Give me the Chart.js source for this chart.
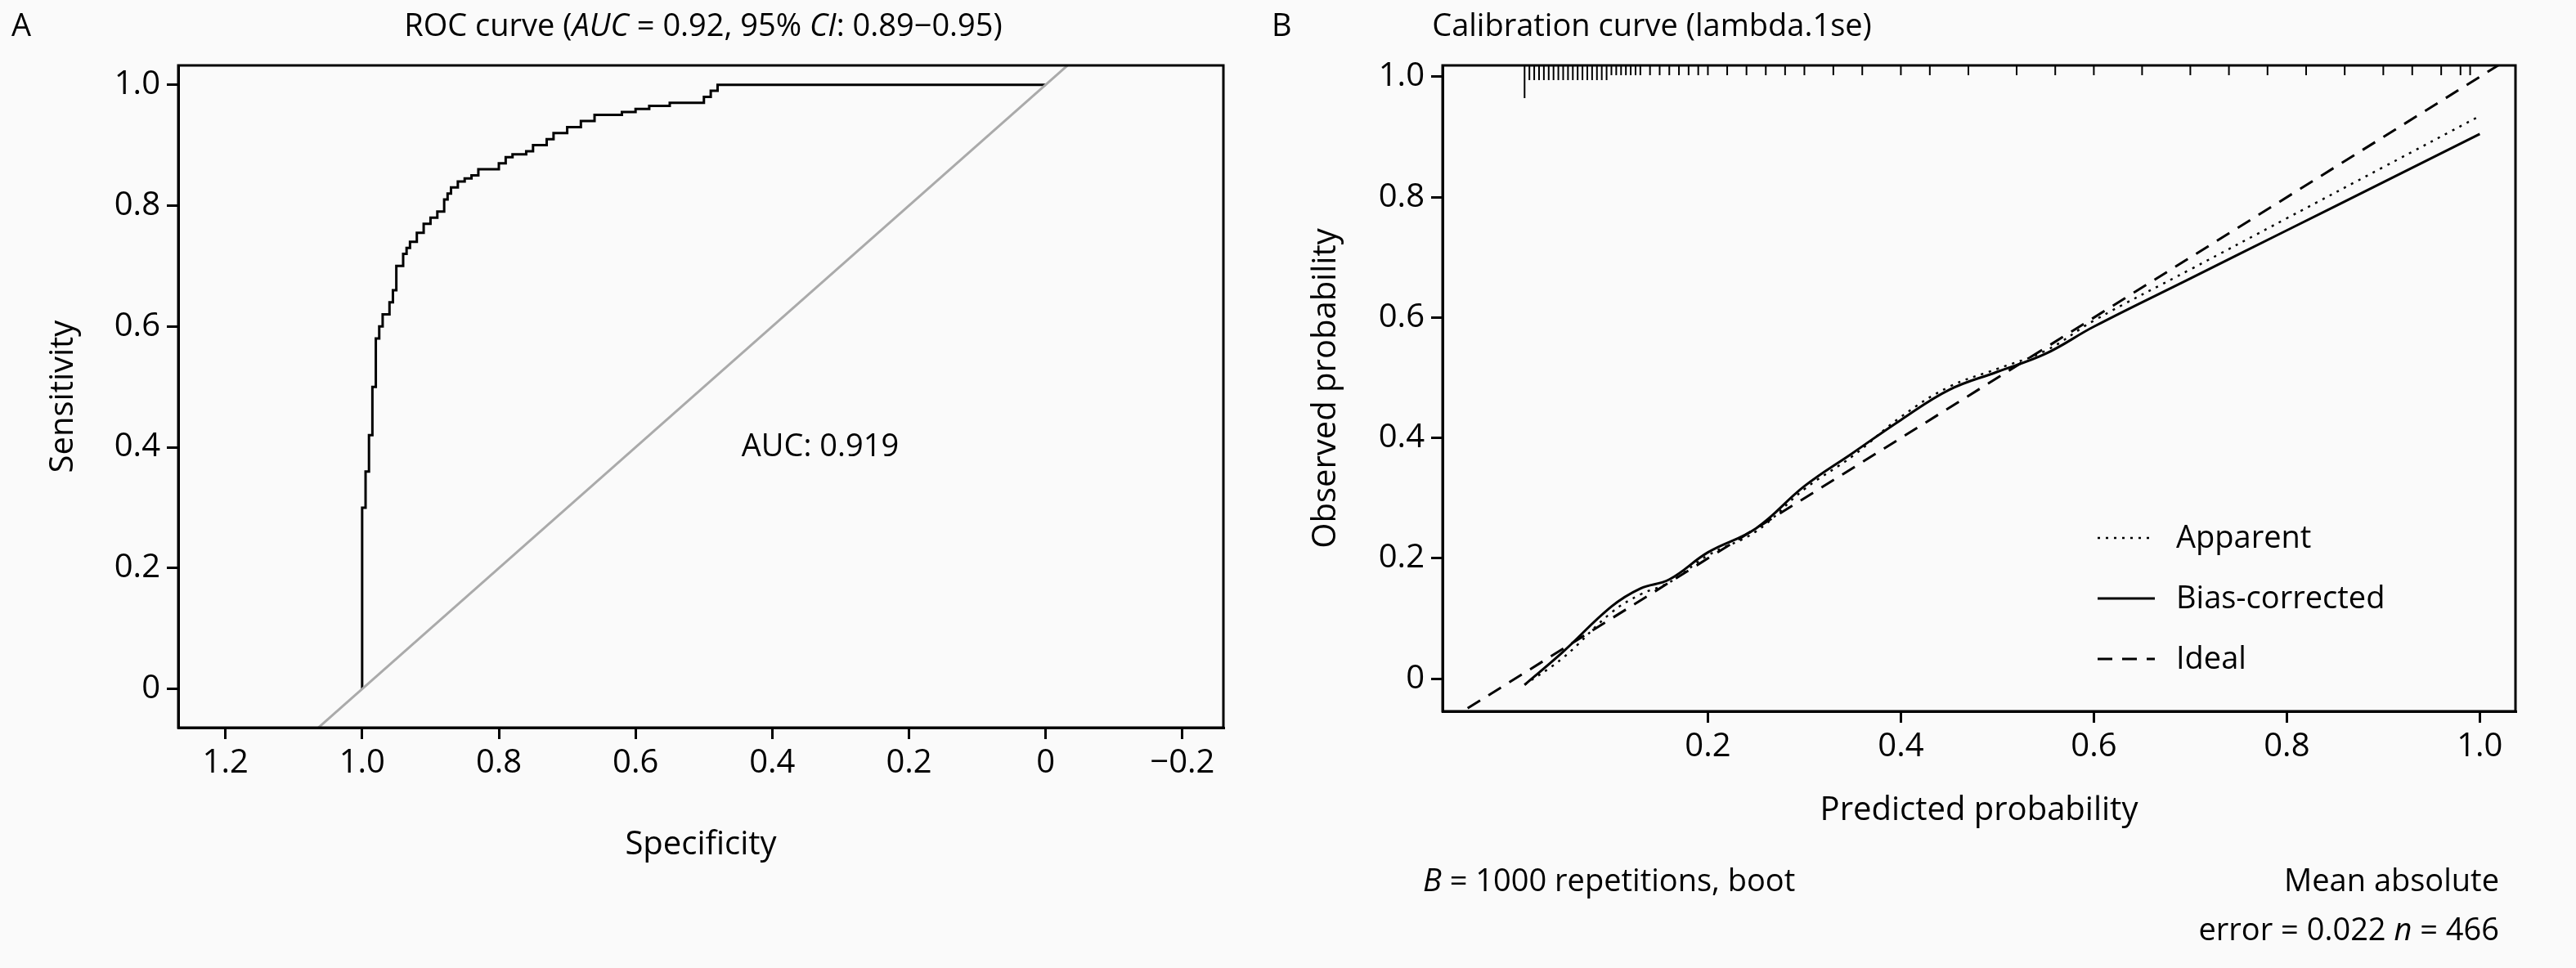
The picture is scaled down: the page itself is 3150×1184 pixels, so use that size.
<!DOCTYPE html>
<html><head><meta charset="utf-8">
<script src="https://cdn.jsdelivr.net/npm/chart.js@4"></script>
<style>body{margin:0;background:#fafafa;width:3150px;height:1184px;overflow:hidden}
#a{position:absolute;left:0;top:0}#b{position:absolute;left:1540px;top:0}</style></head>
<body><canvas id="a" width="1540" height="1184"></canvas><canvas id="b" width="1610" height="1184"></canvas>
<script>
const rocSpec=[1.0,1.0,0.995,0.99,0.985,0.98,0.975,0.97,0.96,0.955,0.95,0.94,0.935,0.93,0.92,0.91,0.90,0.89,0.88,0.875,0.87,0.86,0.85,0.84,0.83,0.80,0.79,0.78,0.76,0.75,0.73,0.72,0.70,0.68,0.66,0.62,0.60,0.58,0.55,0.50,0.49,0.48,0.46,0.0];
const rocSens=[0.0,0.23,0.30,0.36,0.42,0.50,0.58,0.60,0.62,0.64,0.66,0.70,0.72,0.73,0.74,0.755,0.77,0.78,0.79,0.81,0.82,0.83,0.84,0.845,0.85,0.86,0.87,0.88,0.885,0.89,0.90,0.91,0.92,0.93,0.94,0.95,0.955,0.96,0.965,0.97,0.98,0.99,1.0,1.0];
const diagX=[1.2,-0.2], diagY=[-0.2,1.2];
const calX=[0.01,0.05,0.1,0.13,0.16,0.2,0.25,0.3,0.35,0.4,0.45,0.5,0.55,0.6,0.7,0.8,0.9,1.0];
const apparent=[-0.01,0.035,0.11,0.14,0.16,0.205,0.245,0.315,0.37,0.435,0.485,0.515,0.545,0.595,0.68,0.765,0.85,0.935];
const biasCorr=[-0.01,0.045,0.12,0.15,0.165,0.21,0.25,0.32,0.375,0.43,0.48,0.51,0.54,0.585,0.665,0.745,0.825,0.905];
const idealX=[-0.2,1.2], idealY=[-0.2,1.2];
const rug=[0.01,0.015,0.02,0.025,0.03,0.035,0.04,0.045,0.05,0.055,0.06,0.065,0.07,0.075,0.08,0.085,0.09,0.095,0.1,0.105,0.11,0.115,0.12,0.125,0.13,0.14,0.15,0.16,0.17,0.18,0.19,0.2,0.22,0.24,0.26,0.28,0.3,0.33,0.36,0.4,0.43,0.47,0.52,0.56,0.6,0.65,0.7,0.74,0.78,0.82,0.86,0.9,0.93,0.96,0.98,0.99];
const rocTicksX=[1.2,1.0,0.8,0.6,0.4,0.2,0,-0.2];
const yTicks=[0,0.2,0.4,0.6,0.8,1.0];
const FONT='"Open Sans", sans-serif';
const fmt=v=>v===0?'0':(v<0?'\u2212':'')+Math.abs(v).toFixed(1);
function box(){return{id:'box',afterDatasetsDraw(c){const a=c.chartArea,x=c.ctx;x.save();x.strokeStyle='#000';x.lineWidth=3;x.strokeRect(a.left,a.top,a.right-a.left,a.bottom-a.top);x.restore();}}}
function txt(ctx,parts,x,y,align){ctx.textBaseline='alphabetic';let w=0;parts.forEach(p=>{ctx.font=(p[1]?'italic ':'')+'38px '+FONT;w+=ctx.measureText(p[0]).width;});let s=align==='center'?x-w/2:align==='right'?x-w:x;parts.forEach(p=>{ctx.font=(p[1]?'italic ':'')+'38px '+FONT;ctx.fillText(p[0],s,y);s+=ctx.measureText(p[0]).width;});}
function axes(minX,maxX,rev,ticksX,xw,yh,xTitle,yTitle){return{
 x:{type:'linear',min:minX,max:maxX,reverse:rev,afterBuildTicks:s=>{s.ticks=ticksX.map(v=>({value:v}))},afterFit:s=>{s.height=yh},
  ticks:{color:'#000',font:{family:FONT,size:40},callback:v=>fmt(v),maxRotation:0,padding:6},grid:{drawOnChartArea:false,color:'#000',lineWidth:3,tickLength:14},border:{color:'#000',width:3},
  title:{display:true,text:xTitle,color:'#000',font:{family:FONT,size:40},padding:{top:4}}},
 y:{type:'linear',afterFit:s=>{s.width=xw},afterBuildTicks:s=>{s.ticks=yTicks.map(v=>({value:v}))},
  ticks:{color:'#000',font:{family:FONT,size:40},callback:v=>fmt(v),padding:8},grid:{drawOnChartArea:false,color:'#000',lineWidth:3,tickLength:14},border:{color:'#000',width:3},
  title:{display:true,text:yTitle,color:'#000',font:{family:FONT,size:40},padding:{bottom:10}}}}}
const sA=axes(1.269,-0.26,true,rocTicksX,168,80+92,'Specificity','Sensitivity');sA.y.min=-0.064;sA.y.max=1.032;
new Chart(document.getElementById('a'),{type:'scatter',data:{datasets:[
 {data:diagX.map((v,i)=>({x:v,y:diagY[i]})),showLine:true,borderColor:'#aaaaaa',borderWidth:3,pointRadius:0},
 {data:rocSpec.map((v,i)=>({x:v,y:rocSens[i]})),showLine:true,stepped:'after',borderColor:'#000',borderWidth:3,pointRadius:0}]},
 options:{responsive:false,animation:false,layout:{padding:{top:80,right:44,left:50,bottom:1184-890-172}},plugins:{legend:{display:false},tooltip:{enabled:false}},scales:sA},
 plugins:[box(),{id:'t',afterDraw(c){const x=c.ctx;x.save();x.fillStyle='#000';
  txt(x,[['ROC curve ('],['AUC',1],[' = 0.92, 95% '],['CI',1],[': 0.89\u22120.95)']],860,44,'center');
  txt(x,[['A']],14,44,'left');
  txt(x,[['AUC: 0.919']],c.scales.x.getPixelForValue(0.445),c.scales.y.getPixelForValue(0.385),'left');x.restore();}}]});
const sB=axes(-0.075,1.037,false,[0.2,0.4,0.6,0.8,1.0],170,150,'Predicted probability','Observed probability');sB.y.min=-0.054;sB.y.max=1.019;
new Chart(document.getElementById('b'),{type:'scatter',data:{datasets:[
 {data:idealX.map((v,i)=>({x:v,y:idealY[i]})),showLine:true,borderColor:'#000',borderWidth:3,borderDash:[18,12],pointRadius:0},
 {data:calX.map((v,i)=>({x:v,y:apparent[i]})),showLine:true,tension:0.4,borderColor:'#000',borderWidth:2.5,borderDash:[3,7],pointRadius:0},
 {data:calX.map((v,i)=>({x:v,y:biasCorr[i]})),showLine:true,tension:0.4,borderColor:'#000',borderWidth:3,pointRadius:0}]},
 options:{responsive:false,animation:false,layout:{padding:{top:80,right:74,left:54,bottom:1184-870-150}},plugins:{legend:{display:false},tooltip:{enabled:false}},scales:sB},
 plugins:[box(),{id:'t',afterDraw(c){const x=c.ctx,a=c.chartArea;x.save();x.fillStyle='#000';x.strokeStyle='#000';x.lineWidth=2;
  rug.forEach((v,i)=>{const px=c.scales.x.getPixelForValue(v);x.beginPath();x.moveTo(px,a.top);x.lineTo(px,a.top+(i===0?40:(v<0.1?18:12)));x.stroke();});
  txt(x,[['Calibration curve (lambda.1se)']],2020-1540,44,'center');
  txt(x,[['B']],1555-1540,44,'left');
  const lx=2565-1540;
  [[[3,7],2.5,'Apparent',670],[[],3,'Bias-corrected',744],[[18,12],3,'Ideal',818]].forEach(l=>{x.setLineDash(l[0]);x.lineWidth=l[1];x.beginPath();x.moveTo(lx,l[3]-12);x.lineTo(lx+70,l[3]-12);x.stroke();x.setLineDash([]);txt(x,[[l[2]]],lx+96,l[3],'left');});
  txt(x,[['B',1],[' = 1000 repetitions, boot']],1740-1540,1090,'left');
  txt(x,[['Mean absolute']],3056-1540,1090,'right');
  txt(x,[['error = 0.022 '],['n',1],[' = 466']],3056-1540,1150,'right');
  x.restore();}}]});
</script></body></html>
